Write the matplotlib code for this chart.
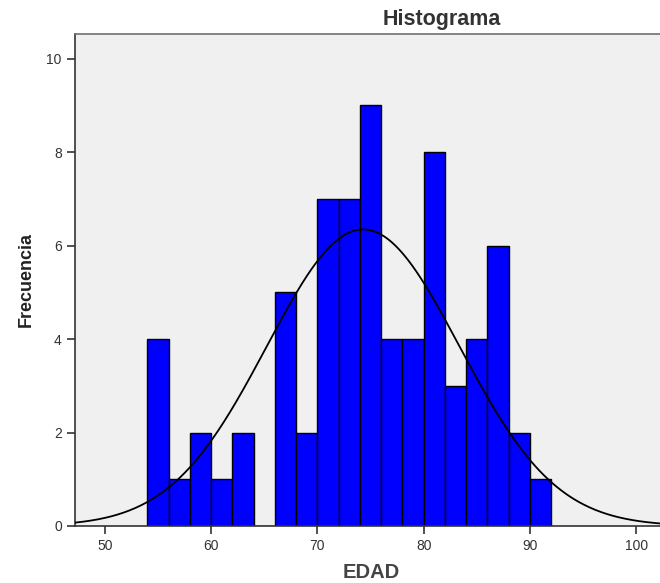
import numpy as np
from matplotlib import pyplot as plt

plt.rcParams['font.family'] = ['Liberation Sans', 'DejaVu Sans']

# histogram data (EDAD), bin width 2
bin_edges = [54, 56, 58, 60, 62, 64, 66, 68, 70, 72, 74, 76, 78, 80, 82, 84, 86, 88, 90, 92]
counts = [4, 1, 2, 1, 2, 0, 5, 2, 7, 7, 9, 4, 4, 8, 3, 4, 6, 2, 1]

# normal curve parameters
media = 74.3
desv = 9.05
n_total = sum(counts)
ancho = 2

fig = plt.figure(figsize=(6.6, 5.83), dpi=100)
ax = fig.add_axes([0.1136, 0.0978, 0.886, 0.8439])
ax.set_facecolor('#f0f0f0')

lefts = np.array(bin_edges[:-1])
ax.bar(lefts, counts, width=np.diff(bin_edges), align='edge',
       color='#0000ff', edgecolor='black', linewidth=1.0, zorder=2)

xs = np.linspace(47.2, 102.2, 400)
ys = n_total * ancho / (desv * np.sqrt(2 * np.pi)) * np.exp(-0.5 * ((xs - media) / desv) ** 2)
ax.plot(xs, ys, color='black', lw=1.3, zorder=3)

ax.set_xlim(47.2, 102.2)
ax.set_ylim(0, 10.53)
ax.set_xticks([50, 60, 70, 80, 90, 100])
ax.set_yticks([0, 2, 4, 6, 8, 10])

ax.spines['right'].set_visible(False)
ax.spines['top'].set_color('#707070')
ax.spines['left'].set_color('#333333')
ax.spines['bottom'].set_color('#333333')
for s in ['top', 'left', 'bottom']:
    ax.spines[s].set_linewidth(1.2)
ax.tick_params(axis='both', direction='out', length=6, width=1.2, color='#333333',
               labelsize=10, labelcolor='#333333')

fig.text(442/660, 1 - 20/583, 'Histograma', ha='center', va='center',
         fontsize=15.5, fontweight='bold', color='#333333')
fig.text(26/660, 1 - 280/583, 'Frecuencia', ha='center', va='center', rotation=90,
         fontsize=13, fontweight='bold', color='#222222')
fig.text(371/660, 1 - 572/583, 'EDAD', ha='center', va='center',
         fontsize=14.5, fontweight='bold', color='#444444')

plt.savefig('out.png', dpi=100)
